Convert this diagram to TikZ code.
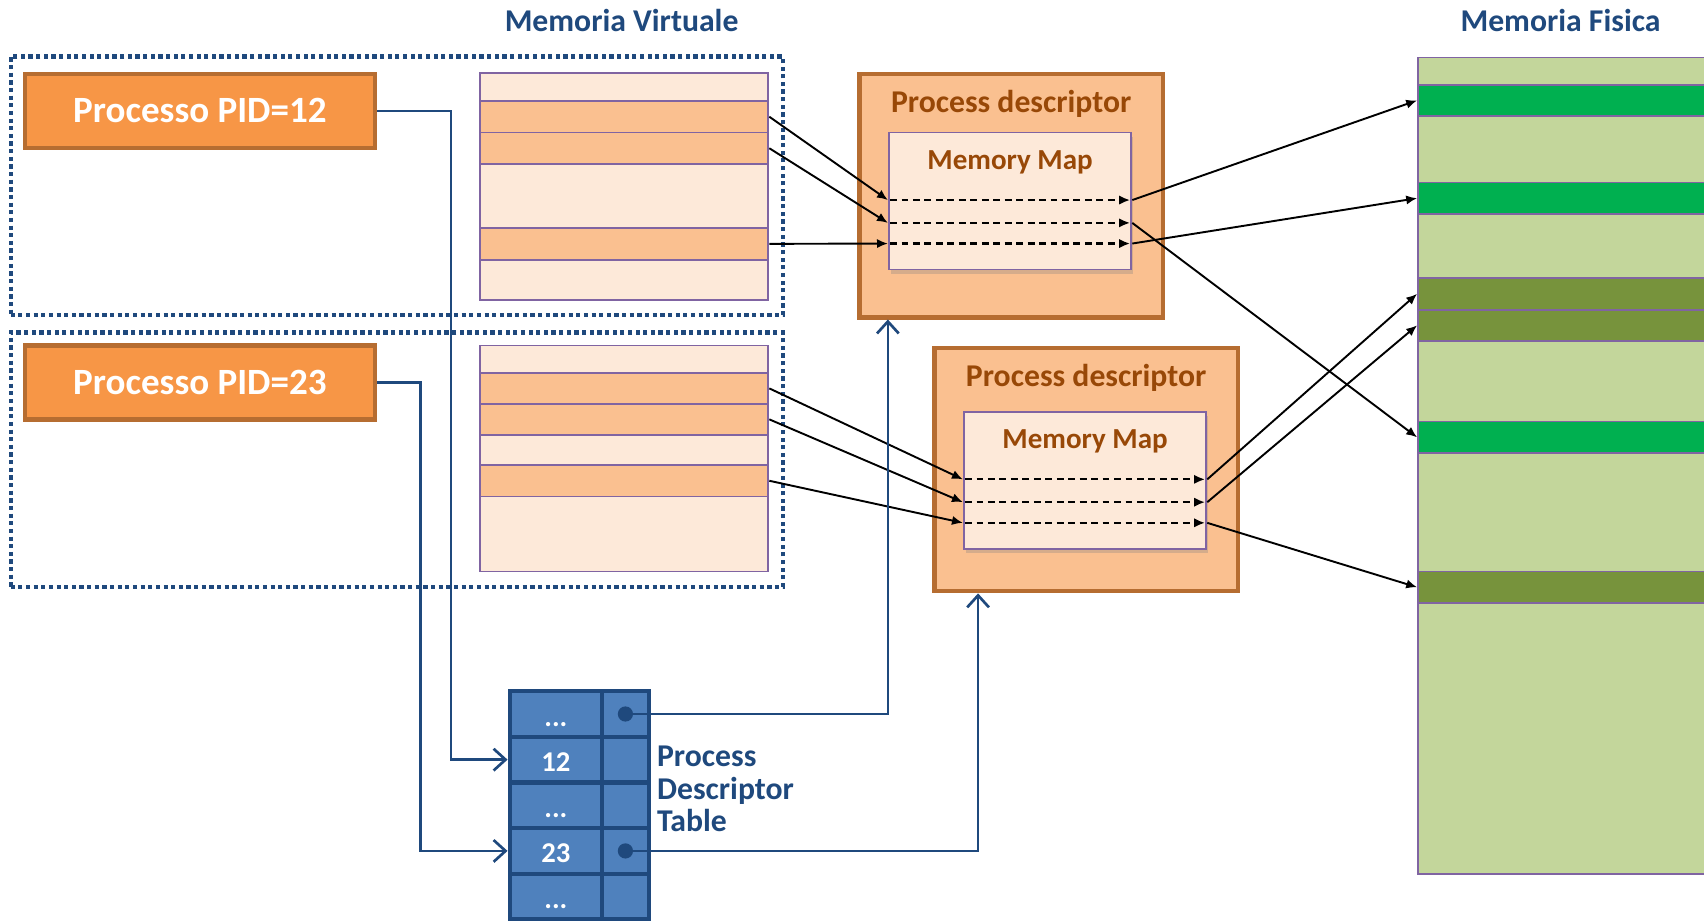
\documentclass[tikz,border=0pt]{standalone}
\usepackage{fontspec}
\setmainfont{Carlito}
\usepackage{tikz}
\usetikzlibrary{positioning}
\usetikzlibrary{arrows.meta}
\usetikzlibrary{shadows}
\definecolor{darkblue}{HTML}{1F497D}
\definecolor{procorange}{HTML}{F79646}
\definecolor{procborder}{HTML}{B66D31}
\definecolor{pagefree}{HTML}{FDE9D9}
\definecolor{pageused}{HTML}{FAC090}
\definecolor{rowline}{HTML}{8064A2}
\definecolor{pdtext}{HTML}{984807}
\definecolor{ramfree}{HTML}{C3D69B}
\definecolor{ramgreen}{HTML}{00B050}
\definecolor{ramolive}{HTML}{77933C}
\definecolor{tablefill}{HTML}{4F81BD}
\tikzset{
  heading/.style={text=darkblue,font=\fontsize{8.3}{10}\selectfont\bfseries},
  region/.style={draw=darkblue,line width=1.1pt,dash pattern=on 1.1pt off 0.9pt,inner sep=0},
  procbox/.style={draw=procborder,fill=procorange,line width=1.1pt,minimum width=3.22cm,minimum height=0.68cm,inner sep=0,text=white,font=\fontsize{9.7}{11}\selectfont\bfseries},
  vmrow/.style={draw=rowline,line width=0.5pt,anchor=north west,inner sep=0,minimum width=2.65cm},
  ramrow/.style={draw=rowline,line width=0.5pt,anchor=north west,inner sep=0,minimum width=2.8cm},
  pdbox/.style={draw=procborder,fill=pageused,line width=1.1pt,anchor=north west,inner sep=0,minimum width=2.79cm,minimum height=2.24cm},
  pdlabel/.style={text=pdtext,inner sep=0,font=\fontsize{8.3}{10}\selectfont\bfseries},
  mmbox/.style={draw=rowline,fill=pagefree,line width=0.5pt,anchor=north west,inner sep=0,minimum width=2.23cm,minimum height=1.26cm,drop shadow={opacity=0.3,shadow xshift=0.02cm,shadow yshift=-0.04cm}},
  mmlabel/.style={text=pdtext,inner sep=0,font=\fontsize{7.6}{9}\selectfont\bfseries},
  mapline/.style={draw=black,line width=0.55pt,dash pattern=on 1.8pt off 1.2pt,-{Latex[length=0.1cm,width=0.085cm]}},
  map/.style={draw=black,line width=0.5pt,-{Latex[length=0.1cm,width=0.085cm]}},
  link/.style={draw=darkblue,line width=0.7pt,-{Straight Barb[length=0.11cm,width=0.2cm]}},
  pdtcell/.style={draw=darkblue,fill=tablefill,line width=1.1pt,minimum width=0.85cm,minimum height=0.42cm,inner sep=0,text=white,text height=0.63em,text depth=0pt,font=\fontsize{7.5}{9}\selectfont\bfseries},
  pdtdot/.style={circle,fill=darkblue,inner sep=0,minimum size=0.14cm},
  pdtlabel/.style={text=darkblue,inner sep=0,align=left,font=\fontsize{8.3}{8.5}\selectfont\bfseries}
}
\begin{document}
\begin{tikzpicture}[x=0.01cm,y=-0.01cm]
  \useasboundingbox (0,0) rectangle (1568,847);
  \node[region,minimum width=7.1cm,minimum height=2.38cm] (regA) at (365,171) {};
  \node[region,minimum width=7.1cm,minimum height=2.34cm] (regB) at (365,423) {};
  \node[heading] (vmtitle) at (572,19) {Memoria Virtuale};
  \node[heading] (ramtitle) at (1436,19) {Memoria Fisica};
  \node[procbox] (pidA) at (184,102) {Processo PID=12};
  \node[procbox] (pidB) at (184,352) {Processo PID=23};
  \foreach \ya/\yb/\col [count=\i] in {66/92/pagefree,92/121/pageused,121/150/pageused,150/209/pagefree,209/238/pageused,238/275/pagefree}
    \node[vmrow,fill=\col,minimum height={(\yb-\ya)*0.01cm}] (vmA\i) at (441,\ya) {};
  \foreach \ya/\yb/\col [count=\i] in {317/342/pagefree,342/371/pageused,371/399/pageused,399/427/pagefree,427/456/pageused,456/525/pagefree}
    \node[vmrow,fill=\col,minimum height={(\yb-\ya)*0.01cm}] (vmB\i) at (441,\ya) {};
  \foreach \ya/\yb/\col [count=\i] in {52/77/ramfree,77/106/ramgreen,106/167/ramfree,167/196/ramgreen,196/255/ramfree,255/284/ramolive,284/313/ramolive,313/387/ramfree,387/416/ramgreen,416/525/ramfree,525/554/ramolive,554/803/ramfree}
    \node[ramrow,fill=\col,minimum height={(\yb-\ya)*0.01cm}] (ram\i) at (1304,\ya) {};
  \node[pdbox] (pdA) at (789,66) {};
  \node[pdlabel] (pdAtitle) at ([yshift=-0.30cm]pdA.north) {Process descriptor};
  \node[mmbox] (mmA) at ([xshift=0.28cm,yshift=-0.55cm]pdA.north west) {};
  \node[mmlabel] (mmAtitle) at ([yshift=-0.28cm]mmA.north) {Memory Map};
  \node[pdbox] (pdB) at (858,318) {};
  \node[pdlabel] (pdBtitle) at ([yshift=-0.30cm]pdB.north) {Process descriptor};
  \node[mmbox] (mmB) at ([xshift=0.28cm,yshift=-0.60cm]pdB.north west) {};
  \node[mmlabel] (mmBtitle) at ([yshift=-0.28cm]mmB.north) {Memory Map};
  \foreach \m in {mmA,mmB}
    \foreach \k/\dy in {1/0.63,2/0.84,3/1.03}{
      \coordinate (\m-in\k) at ([yshift=-\dy cm]\m.north west);
      \coordinate (\m-out\k) at ([yshift=-\dy cm]\m.north east);
      \draw[mapline] ([xshift=0.02cm]\m-in\k) -- ([xshift=-0.02cm]\m-out\k);
    }
  \draw[map] (vmA2.east) -- (mmA-in1);
  \draw[map] (vmA3.east) -- (mmA-in2);
  \draw[map] (vmA5.east) -- (mmA-in3);
  \draw[map] (vmB2.east) -- (mmB-in1);
  \draw[map] (vmB3.east) -- (mmB-in2);
  \draw[map] (vmB5.east) -- (mmB-in3);
  \draw[map] (mmA-out1) -- (ram2.west);
  \draw[map] (mmA-out2) -- (ram9.west);
  \draw[map] (mmA-out3) -- (ram4.west);
  \draw[map] (mmB-out1) -- (ram6.west);
  \draw[map] (mmB-out2) -- (ram7.west);
  \draw[map] (mmB-out3) -- (ram11.west);
  \node[pdtcell] (pdt1) at (511.5,657) {...};
  \node[pdtcell] (pdt2) at (511.5,699) {12};
  \node[pdtcell] (pdt3) at (511.5,741) {...};
  \node[pdtcell] (pdt4) at (511.5,783) {23};
  \node[pdtcell] (pdt5) at (511.5,825) {...};
  \foreach \i in {1,...,5}
    \node[pdtcell,minimum width=0.43cm] (pdtp\i) at (575.5,{615+42*\i}) {};
  \node[pdtdot] (dotA) at (pdtp1) {};
  \node[pdtdot] (dotB) at (pdtp4) {};
  \node[pdtlabel,anchor=west] (pdtname) at ([xshift=0.05cm,yshift=-0.08cm]pdtp3.north east) {Process\\Descriptor\\Table};
  \draw[link] (pidA.east) -- ++(68,0) |- (pdt2.west);
  \draw[link] (pidB.east) -- ++(40,0) |- (pdt4.west);
  \draw[link] (dotA.center) -| ([xshift=0.28cm]pdA.south west);
  \draw[link] (dotB.center) -| ([xshift=0.42cm]pdB.south west);
\end{tikzpicture}
\end{document}
